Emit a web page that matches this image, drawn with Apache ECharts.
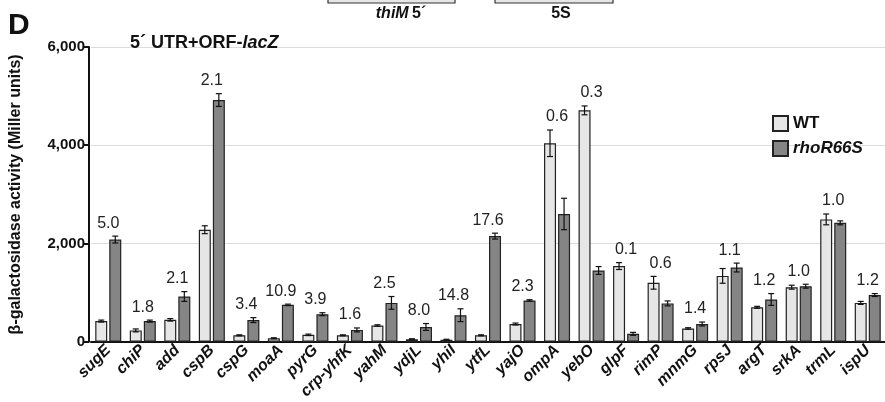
<!DOCTYPE html>
<html><head><meta charset="utf-8">
<script src="https://cdn.jsdelivr.net/npm/echarts@6/dist/echarts.min.js"></script>
<style>html,body{margin:0;padding:0;background:#fff}#c{width:885px;height:402px}</style>
</head><body><div id="c"></div>
<script>
const categories = ['sugE','chiP','add','cspB','cspG','moaA','pyrG','crp-yhfK','yahM','ydjL','yhiI','ytfL','yajO','ompA','yebO','glpF','rimP','mnmG','rpsJ','argT','srkA','trmL','ispU'];
const wtValues  = [420, 230, 445, 2280, 130, 70, 140, 130, 330, 50, 40, 130, 360, 4040, 4710, 1540, 1200, 270, 1340, 700, 1110, 2490, 790];
const mutValues = [2080, 420, 920, 4920, 440, 750, 560, 240, 790, 300, 540, 2150, 840, 2600, 1450, 160, 780, 360, 1510, 860, 1130, 2420, 950];
const wtErr  = [20, 30, 25, 80, 10, 10, 15, 10, 15, 10, 10, 10, 20, 270, 90, 70, 130, 15, 150, 20, 40, 110, 30];
const mutErr = [70, 20, 100, 130, 50, 15, 30, 40, 130, 70, 130, 60, 15, 320, 80, 30, 50, 40, 90, 120, 40, 40, 30];
const ratioLabels = ['5.0','1.8','2.1','2.1','3.4','10.9','3.9','1.6','2.5','8.0','14.8','17.6','2.3','0.6','0.3','0.1','0.6','1.4','1.1','1.2','1.0','1.0','1.2'];
const yTicks = [0, 2000, 4000, 6000];

const FONT = 'Liberation Sans, Arial, Helvetica, sans-serif';
const BAR_W = 12, BAR_GAP = 0.17;
const OFFSET = BAR_W * (1 + BAR_GAP) / 2;

const chart = echarts.init(document.getElementById('c'));
const option = {
  animation: false,
  textStyle: { fontFamily: FONT },
  title: {
    text: '{b|5´ UTR+ORF-}{i|lacZ}',
    left: 125, top: 29,
    textStyle: { rich: {
      b: { fontFamily: FONT, fontWeight: 'bold', fontSize: 18, color: '#111' },
      i: { fontFamily: FONT, fontWeight: 'bold', fontStyle: 'italic', fontSize: 18, color: '#111' }
    } }
  },
  legend: {
    orient: 'vertical', left: 767, top: 110, itemWidth: 15, itemHeight: 15, itemGap: 8,
    icon: 'rect',
    data: ['WT', 'rhoR66S'],
    formatter: n => n === 'WT' ? '{b|WT}' : '{i|rhoR66S}',
    textStyle: { rich: {
      b: { fontFamily: FONT, fontWeight: 'bold', fontSize: 17, color: '#111' },
      i: { fontFamily: FONT, fontWeight: 'bold', fontStyle: 'italic', fontSize: 17, color: '#111' }
    } }
  },
  grid: { left: 90, right: 0, top: 47, bottom: 58 },
  xAxis: {
    type: 'category', data: categories,
    axisLine: { lineStyle: { color: '#111', width: 2 } },
    axisTick: { show: false },
    axisLabel: { rotate: 45, fontFamily: FONT, fontWeight: 'bold', fontStyle: 'italic', fontSize: 16, color: '#111', margin: 6, interval: 0 }
  },
  yAxis: {
    type: 'value', min: yTicks[0], max: yTicks[yTicks.length - 1], interval: 2000, offset: 2,
    name: 'β-galactosidase activity (Miller units)', nameLocation: 'middle', nameGap: 65,
    nameTextStyle: { fontFamily: FONT, fontWeight: 'bold', fontSize: 16, color: '#111' },
    axisLine: { show: true, lineStyle: { color: '#111', width: 2 } },
    axisTick: { show: true, length: 5, lineStyle: { color: '#111', width: 2 } },
    axisLabel: { fontFamily: FONT, fontWeight: 'bold', fontSize: 15, color: '#111', margin: 4,
      formatter: v => v.toLocaleString('en-US') },
    splitLine: { lineStyle: { color: '#dcdcdc', width: 1 } }
  },
  series: [
    { name: 'WT', type: 'bar', data: wtValues, barWidth: BAR_W, barGap: (BAR_GAP * 100) + '%',
      itemStyle: { color: '#e6e6e6', borderColor: '#222', borderWidth: 1.2 } },
    { name: 'rhoR66S', type: 'bar', data: mutValues, barWidth: BAR_W,
      itemStyle: { color: '#858585', borderColor: '#222', borderWidth: 1.2 } },
    { name: 'err', type: 'custom', data: categories.map((c, i) => [i]), z: 10,
      renderItem: (params, api) => {
        const i = api.value(0);
        const cx = api.coord([i, 0])[0];
        const children = [];
        const pairs = [[wtValues[i], wtErr[i], cx - OFFSET], [mutValues[i], mutErr[i], cx + OFFSET]];
        let topY = Infinity;
        pairs.forEach(([v, e, x]) => {
          const yHi = api.coord([i, v + e])[1];
          const yLo = api.coord([i, Math.max(0, v - e)])[1];
          topY = Math.min(topY, yHi);
          const st = { stroke: '#111', lineWidth: 1.2 };
          children.push({ type: 'line', shape: { x1: x, y1: yHi, x2: x, y2: yLo }, style: st });
          children.push({ type: 'line', shape: { x1: x - 3, y1: yHi, x2: x + 3, y2: yHi }, style: st });
          children.push({ type: 'line', shape: { x1: x - 3, y1: yLo, x2: x + 3, y2: yLo }, style: st });
        });
        children.push({ type: 'text', style: { text: ratioLabels[i], x: cx, y: topY - 5,
          align: 'center', verticalAlign: 'bottom', fontFamily: FONT, fontSize: 16, fill: '#222' } });
        return { type: 'group', children };
      }
    }
  ],
  graphic: [
    { type: 'text', left: 8, top: 11, style: { text: 'D', fontFamily: FONT, fontWeight: 'bold', fontSize: 30, fill: '#111' } },
    { type: 'rect', shape: { x: 328, y: -10, width: 127, height: 13 }, style: { fill: '#e6e6e6', stroke: '#333', lineWidth: 1.2 } },
    { type: 'rect', shape: { x: 495, y: -10, width: 118, height: 13 }, style: { fill: '#e6e6e6', stroke: '#333', lineWidth: 1.2 } },
    { type: 'text', x: 401, y: 14, style: { text: '{i|thiM} {b|5´}', align: 'center', verticalAlign: 'middle',
      rich: { i: { fontFamily: FONT, fontWeight: 'bold', fontStyle: 'italic', fontSize: 16, fill: '#111' },
              b: { fontFamily: FONT, fontWeight: 'bold', fontSize: 16, fill: '#111' } } } },
    { type: 'text', x: 561, y: 14, style: { text: '5S', align: 'center', verticalAlign: 'middle', fontFamily: FONT, fontWeight: 'bold', fontSize: 16, fill: '#111' } }
  ]
};
chart.setOption(option);
</script></body></html>
